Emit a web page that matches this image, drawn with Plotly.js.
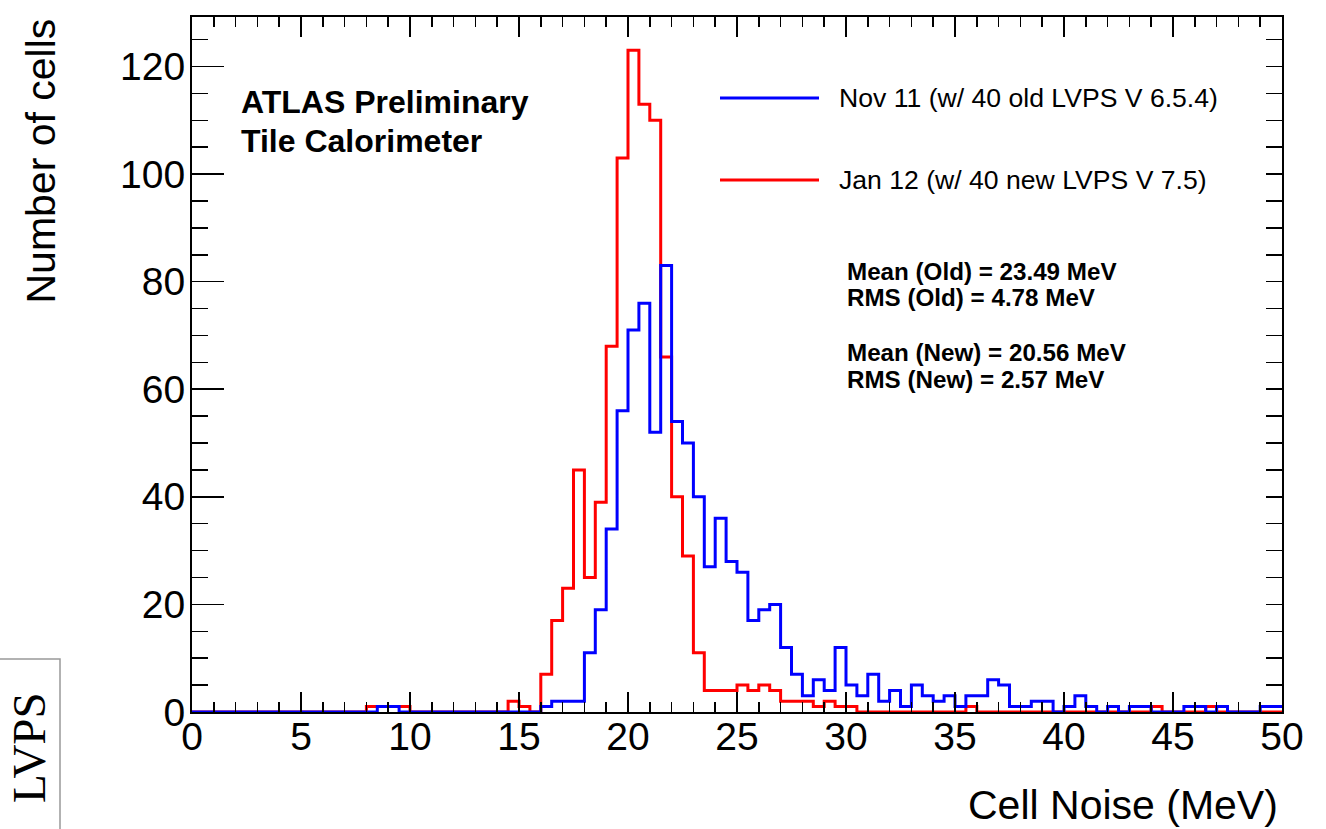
<!DOCTYPE html>
<html>
<head>
<meta charset="utf-8">
<script src="https://cdn.plot.ly/plotly-3.0.1.min.js"></script>
<style>html,body{margin:0;padding:0;background:#fff;}#chart{width:1326px;height:829px;}</style>
</head>
<body>
<div id="chart"></div>
<script>
// Histogram binning (0.5 MeV bins from 0 to 50 MeV)
const binStart = 0;
const binWidth = 0.5;

// Nov 11 (old LVPS) counts per bin
const countsOld = [
  0,0,0,0,0,0,0,0,0,0,
  0,0,0,0,0,0,0,1,1,0,
  0,0,0,0,0,0,0,0,0,0,
  0,0,1,2,2,2,11,19,34,56,
  71,76,52,83,54,50,40,27,36,28,
  26,17,19,20,12,7,3,6,4,12,
  5,3,7,2,4,1,5,3,2,3,
  1,3,3,6,5,1,1,2,2,0,
  1,3,1,0,1,0,1,1,0,0,
  0,1,1,0,1,0,0,0,1,1
];

// Jan 12 (new LVPS) counts per bin
const countsNew = [
  0,0,0,0,0,0,0,0,0,0,
  0,0,0,0,0,0,1,1,1,1,
  0,0,0,0,0,0,0,0,0,2,
  1,0,7,17,23,45,25,39,68,103,
  123,113,110,66,40,29,11,4,4,4,
  5,4,5,4,2,2,2,1,2,1,
  1,0,0,0,0,0,0,0,0,0,
  0,1,0,0,0,0,0,0,0,0,
  0,0,0,0,0,0,0,0,1,0,
  0,0,0,1,0,0,0,0,0,0
];

const seriesNames = ["Nov 11 (w/ 40 old LVPS V 6.5.4)", "Jan 12 (w/ 40 new LVPS V 7.5)"];
const statLines = ["Mean (Old) = 23.49 MeV", "RMS (Old) = 4.78 MeV", "Mean (New) = 20.56 MeV", "RMS (New) = 2.57 MeV"];
const labelLines = ["ATLAS Preliminary", "Tile Calorimeter"];
const xTitle = "Cell Noise (MeV)";
const yTitle = "Number of cells";
const sideLabel = "LVPS";
const xRange = [0, 50];
const yRange = [0, 129.2];

function stepXY(counts) {
  const xs = [], ys = [];
  for (let i = 0; i < counts.length; i++) { xs.push(binStart + i * binWidth); ys.push(counts[i]); }
  xs.push(binStart + counts.length * binWidth); ys.push(counts[counts.length - 1]);
  return {xs, ys};
}
const sNew = stepXY(countsNew);
const sOld = stepXY(countsOld);

const FONT = "Liberation Sans, Arial, Helvetica, sans-serif";
const traces = [
  {x: sNew.xs, y: sNew.ys, type: "scatter", mode: "lines", line: {shape: "hv", color: "#ff0000", width: 3}, name: seriesNames[1], hoverinfo: "x+y"},
  {x: sOld.xs, y: sOld.ys, type: "scatter", mode: "lines", line: {shape: "hv", color: "#0000ff", width: 3}, name: seriesNames[0], hoverinfo: "x+y"},
  {x: [], y: [], type: "scatter", yaxis: "y2", showlegend: false, hoverinfo: "skip"}
];

function px2x(p) { return (p - 192) / 1090; }
function px2y(p) { return (712 - p) / 695; }

function txt(x, y, text, size, opts) {
  return Object.assign({xref: "paper", yref: "paper", x: px2x(x), y: px2y(y), xanchor: "left", yanchor: "middle",
    text: text, showarrow: false, font: {family: FONT, size: size, color: "#000"}}, opts || {});
}

const annotations = [
  txt(40, 17, yTitle, 41, {xanchor: "center", yanchor: "top", textangle: -90}),
  txt(1280, 805, xTitle, 41, {xanchor: "right"}),
  txt(239, 102, "<b>" + labelLines[0] + "</b>", 32),
  txt(239, 141, "<b>" + labelLines[1] + "</b>", 32),
  txt(837, 98, seriesNames[0], 26.6),
  txt(837, 180, seriesNames[1], 26.6),
  txt(845, 271, "<b>" + statLines[0] + "</b>", 24.2),
  txt(845, 298, "<b>" + statLines[1] + "</b>", 24.2),
  txt(845, 352, "<b>" + statLines[2] + "</b>", 24.2),
  txt(845, 379, "<b>" + statLines[3] + "</b>", 24.2),
  txt(29, 748, sideLabel, 47, {xanchor: "center", textangle: -90, font: {family: "Liberation Serif, Times New Roman, serif", size: 47, color: "#000"}})
];

const shapes = [
  {type: "line", xref: "paper", yref: "paper", x0: px2x(720), x1: px2x(819), y0: px2y(98), y1: px2y(98), line: {color: "#0000ff", width: 3}},
  {type: "line", xref: "paper", yref: "paper", x0: px2x(720), x1: px2x(819), y0: px2y(180), y1: px2y(180), line: {color: "#ff0000", width: 3}},
  {type: "rect", xref: "paper", yref: "paper", x0: px2x(-10), x1: px2x(60), y0: px2y(659), y1: px2y(840), line: {color: "#999999", width: 1.5}, fillcolor: "rgba(0,0,0,0)", layer: "above"}
];

const layout = {
  width: 1326, height: 829,
  margin: {l: 192, r: 44, t: 17, b: 117, pad: 0},
  paper_bgcolor: "#fff", plot_bgcolor: "#fff",
  showlegend: false,
  font: {family: FONT, size: 39, color: "#000"},
  xaxis: {
    range: xRange, dtick: 5, tick0: 0, ticks: "inside", ticklen: 20, tickwidth: 1.5, tickcolor: "#000",
    showline: true, linecolor: "#000", linewidth: 2, mirror: "ticks",
    showgrid: false, zeroline: false, ticklabelstandoff: -11,
    tickfont: {family: FONT, size: 39, color: "#000"},
    minor: {dtick: 1, ticks: "inside", ticklen: 10, tickwidth: 1.5, tickcolor: "#000", showgrid: false}
  },
  yaxis: {
    range: yRange, dtick: 20, tick0: 0, ticks: "inside", ticklen: 32, tickwidth: 1.5, tickcolor: "#000",
    showline: true, linecolor: "#000", linewidth: 2, mirror: true,
    showgrid: false, zeroline: false, ticklabelstandoff: -3,
    tickfont: {family: FONT, size: 39, color: "#000"},
    minor: {dtick: 5, ticks: "inside", ticklen: 16, tickwidth: 1.5, tickcolor: "#000", showgrid: false}
  },
  yaxis2: {
    overlaying: "y", side: "right", range: yRange, dtick: 20, tick0: 0,
    ticks: "inside", ticklen: 16, tickwidth: 1.5, tickcolor: "#000",
    showticklabels: false, showline: false, showgrid: false, zeroline: false,
    minor: {dtick: 5, ticks: "inside", ticklen: 16, tickwidth: 1.5, tickcolor: "#000", showgrid: false}
  },
  annotations: annotations,
  shapes: shapes
};

Plotly.newPlot("chart", traces, layout, {displayModeBar: false, staticPlot: true});
</script>
</body>
</html>
